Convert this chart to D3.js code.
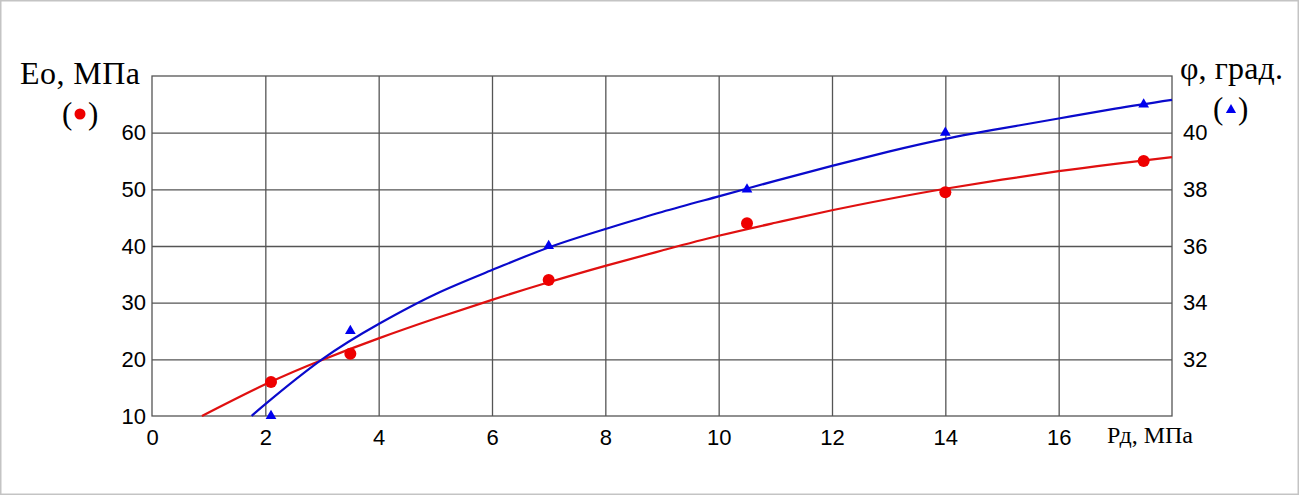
<!DOCTYPE html>
<html><head><meta charset="utf-8">
<script src="https://cdn.jsdelivr.net/npm/d3@7"></script>
<style>html,body{margin:0;padding:0;background:#fff;}svg{display:block;}</style>
</head><body>
<svg id="chart" width="1300" height="496"></svg>
<script>
// Data
const pressureTicks = [0, 2, 4, 6, 8, 10, 12, 14, 16];
const modulusTicks = [10, 20, 30, 40, 50, 60];
const angleTicks = [32, 34, 36, 38, 40];
const pointsP = [2.1, 3.5, 7, 10.5, 14, 17.5];
const modulusPoints = [16, 21, 34, 44, 49.5, 55];
const anglePoints = [30, 33, 36, 38, 40, 41];
const modulusFitP = [0.88, 2, 3, 4, 5, 6, 7, 8, 9, 10, 11, 12, 13, 14, 15, 16, 17, 18];
const modulusFit = [10, 15.6, 19.9, 23.7, 27.2, 30.5, 33.6, 36.5, 39.2, 41.8, 44.1, 46.3, 48.3, 50.1, 51.7, 53.2, 54.5, 55.7];
const angleFitP = [1.76, 2, 3, 4, 5, 6, 7, 8, 9, 10, 11, 12, 13, 14, 15, 16, 17, 18];
const angleFit = [30, 30.42, 32.0, 33.25, 34.3, 35.15, 35.95, 36.6, 37.2, 37.75, 38.3, 38.83, 39.33, 39.78, 40.15, 40.5, 40.85, 41.16];

const svg = d3.select("#chart");
const L = 152, R = 1172, T = 76, B = 416;
const x = d3.scaleLinear().domain([0, 18]).range([L, R]);
const yL = d3.scaleLinear().domain([10, 70]).range([B, T]);
const yR = d3.scaleLinear().domain([30, 42]).range([B, T]);

// outer frame
svg.append("rect").attr("x", 0.75).attr("y", 0.75).attr("width", 1297.5).attr("height", 493.5)
  .attr("fill", "none").attr("stroke", "#c4c4c4").attr("stroke-width", 1.5);

const gridColor = "#555";
// grid
const gx = svg.append("g").attr("transform", `translate(0,${B})`)
  .call(d3.axisBottom(x).tickValues(d3.range(2, 18, 2)).tickSize(-(B - T)).tickFormat(""));
gx.select(".domain").remove();
gx.selectAll("line").attr("stroke", gridColor).attr("stroke-width", 1.3);
const gy = svg.append("g").attr("transform", `translate(${L},0)`)
  .call(d3.axisLeft(yL).tickValues([20, 30, 40, 50, 60]).tickSize(-(R - L)).tickFormat(""));
gy.select(".domain").remove();
gy.selectAll("line").attr("stroke", gridColor).attr("stroke-width", 1.3);
svg.append("rect").attr("x", L).attr("y", T).attr("width", R - L).attr("height", B - T)
  .attr("fill", "none").attr("stroke", gridColor).attr("stroke-width", 1.3);

const tickFont = "'Liberation Sans', Arial, sans-serif";
const serif = "'Liberation Serif', 'Times New Roman', serif";

// x tick labels
const ax = svg.append("g").attr("transform", `translate(0,${B})`)
  .call(d3.axisBottom(x).tickValues(pressureTicks).tickSize(0).tickPadding(13).tickFormat(d3.format("d")));
ax.select(".domain").remove();
ax.selectAll("text").attr("font-family", tickFont).attr("font-size", 22).attr("fill", "#000");

// left tick labels
const al = svg.append("g").attr("transform", `translate(${L},0)`)
  .call(d3.axisLeft(yL).tickValues(modulusTicks).tickSize(0).tickPadding(6).tickFormat(d3.format("d")));
al.select(".domain").remove();
al.selectAll("text").attr("font-family", tickFont).attr("font-size", 22).attr("fill", "#000");

// right tick labels
const ar = svg.append("g").attr("transform", `translate(${R},0)`)
  .call(d3.axisRight(yR).tickValues(angleTicks).tickSize(0).tickPadding(11).tickFormat(d3.format("d")));
ar.select(".domain").remove();
ar.selectAll("text").attr("font-family", tickFont).attr("font-size", 22).attr("fill", "#000");

// axis titles
svg.append("text").attr("x", 1107).attr("y", 443).attr("font-family", serif).attr("font-size", 24)
  .attr("fill", "#000").text("Рд, МПа");
svg.append("text").attr("x", 20).attr("y", 84).attr("font-family", serif).attr("font-size", 32)
  .attr("fill", "#000").attr("textLength", 120).text("Eo, МПа");
svg.append("text").attr("x", 62).attr("y", 124).attr("font-family", serif).attr("font-size", 31)
  .attr("fill", "#000").text("(");
svg.append("text").attr("x", 88).attr("y", 124).attr("font-family", serif).attr("font-size", 31)
  .attr("fill", "#000").text(")");
svg.append("circle").attr("cx", 80).attr("cy", 114).attr("r", 5.5).attr("fill", "#ee0000");
svg.append("text").attr("x", 1180).attr("y", 79).attr("font-family", serif).attr("font-size", 32)
  .attr("fill", "#000").attr("textLength", 103).text("φ, град.");
svg.append("text").attr("x", 1213).attr("y", 119).attr("font-family", serif).attr("font-size", 31)
  .attr("fill", "#000").text("(");
svg.append("text").attr("x", 1238).attr("y", 119).attr("font-family", serif).attr("font-size", 31)
  .attr("fill", "#000").text(")");
svg.append("path").attr("d", d3.symbol().type(d3.symbolTriangle).size(45)())
  .attr("transform", "translate(1231,110)").attr("fill", "#0000ee");

// fitted curves
const redLine = d3.line().x(d => x(d[0])).y(d => yL(d[1])).curve(d3.curveNatural);
const blueLine = d3.line().x(d => x(d[0])).y(d => yR(d[1])).curve(d3.curveNatural);
svg.append("path").attr("d", redLine(d3.zip(modulusFitP, modulusFit)))
  .attr("fill", "none").attr("stroke", "#e01010").attr("stroke-width", 2.2);
svg.append("path").attr("d", blueLine(d3.zip(angleFitP, angleFit)))
  .attr("fill", "none").attr("stroke", "#0a0acc").attr("stroke-width", 2.2);

// points
svg.append("g").selectAll("circle").data(d3.zip(pointsP, modulusPoints)).join("circle")
  .attr("cx", d => x(d[0])).attr("cy", d => yL(d[1])).attr("r", 6).attr("fill", "#ee0000");
svg.append("g").selectAll("path").data(d3.zip(pointsP, anglePoints)).join("path")
  .attr("d", d3.symbol().type(d3.symbolTriangle).size(50)())
  .attr("transform", d => `translate(${x(d[0])},${yR(d[1])})`).attr("fill", "#0000ee");
</script>
</body></html>
